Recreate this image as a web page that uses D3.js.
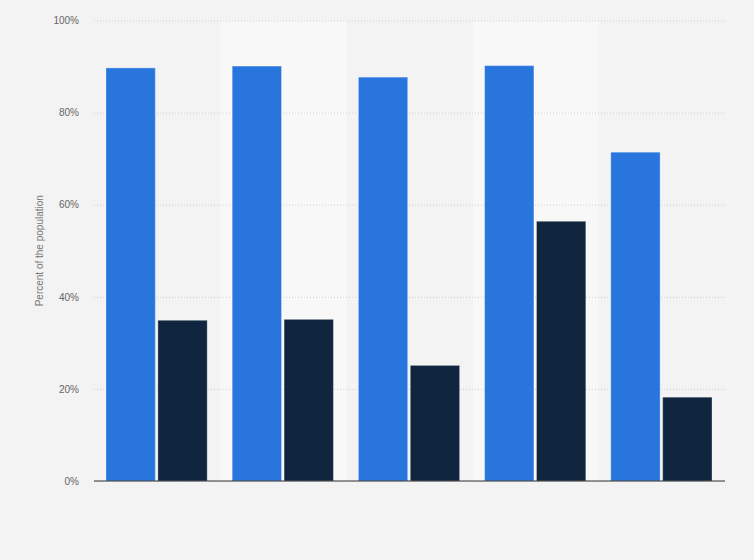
<!DOCTYPE html>
<html>
<head>
<meta charset="utf-8">
<title>bar chart</title>
<script src="https://d3js.org/d3.v7.min.js"></script>
<style>
  body { margin: 0; background: #f3f3f3; }
  svg { display: block; }
  text { font-family: "Liberation Sans", Arial, sans-serif; }
</style>
</head>
<body>
<script>
var categories = ["A", "B", "C", "D", "E"];
var seriesNames = ["Series 1", "Series 2"];
var series1 = [89.7, 90.1, 87.7, 90.2, 71.4];
var series2 = [34.9, 35.1, 25.1, 56.4, 18.2];
var yTicks = [0, 20, 40, 60, 80, 100];
var colors = ["#2876dd", "#0f263e"];

var W = 754, H = 560;
var margin = {top: 20.5, right: 29, bottom: 79, left: 94};
var width = W - margin.left - margin.right;
var height = H - margin.top - margin.bottom;

var svg = d3.select("body").append("svg")
    .attr("width", W).attr("height", H);

svg.append("rect").attr("width", W).attr("height", H).attr("fill", "#f3f3f3");

var g = svg.append("g")
    .attr("transform", "translate(" + margin.left + "," + margin.top + ")");

var x = d3.scaleBand().domain(categories).range([0, width]);
var xInner = d3.scaleBand().domain(seriesNames)
    .range([12, x.bandwidth() - 13]).paddingInner(0.05);
var y = d3.scaleLinear().domain([0, 100]).range([height, 0]);

// alternating bands
g.selectAll(".band").data(categories.filter(function(d, i) { return i % 2 === 1; }))
  .enter().append("rect")
    .attr("x", function(d) { return x(d); })
    .attr("y", 0)
    .attr("width", x.bandwidth())
    .attr("height", height)
    .attr("fill", "#f8f8f8");

// grid
g.append("g")
    .call(d3.axisLeft(y).tickValues(yTicks).tickSize(-width).tickFormat(function(d) { return d + "%"; }))
    .call(function(s) {
      s.select(".domain").remove();
      s.selectAll(".tick line").attr("stroke", "#cfcfcf").attr("stroke-dasharray", "1,2");
      s.selectAll(".tick text").attr("x", -15).attr("fill", "#666").attr("font-size", 10);
    });

var data = categories.map(function(c, i) {
  return [{c: c, s: seriesNames[0], v: series1[i]}, {c: c, s: seriesNames[1], v: series2[i]}];
});

g.selectAll(".grp").data(data).enter().append("g")
    .attr("transform", function(d) { return "translate(" + x(d[0].c) + ",0)"; })
  .selectAll("rect").data(function(d) { return d; }).enter().append("rect")
    .attr("x", function(d) { return xInner(d.s); })
    .attr("y", function(d) { return y(d.v); })
    .attr("width", xInner.bandwidth())
    .attr("height", function(d) { return height - y(d.v); })
    .attr("fill", function(d, i) { return colors[i]; })
    .attr("stroke", "rgba(255,255,255,0.3)")
    .attr("stroke-width", 1);

// x axis line
g.append("line")
    .attr("x1", 0).attr("x2", width)
    .attr("y1", height).attr("y2", height)
    .attr("stroke", "#333").attr("stroke-width", 1.2);

// y axis title
svg.append("text")
    .attr("transform", "translate(43," + (margin.top + height / 2) + ") rotate(-90)")
    .attr("text-anchor", "middle")
    .attr("fill", "#777")
    .attr("font-size", 10)
    .text("Percent of the population");
</script>
</body>
</html>
